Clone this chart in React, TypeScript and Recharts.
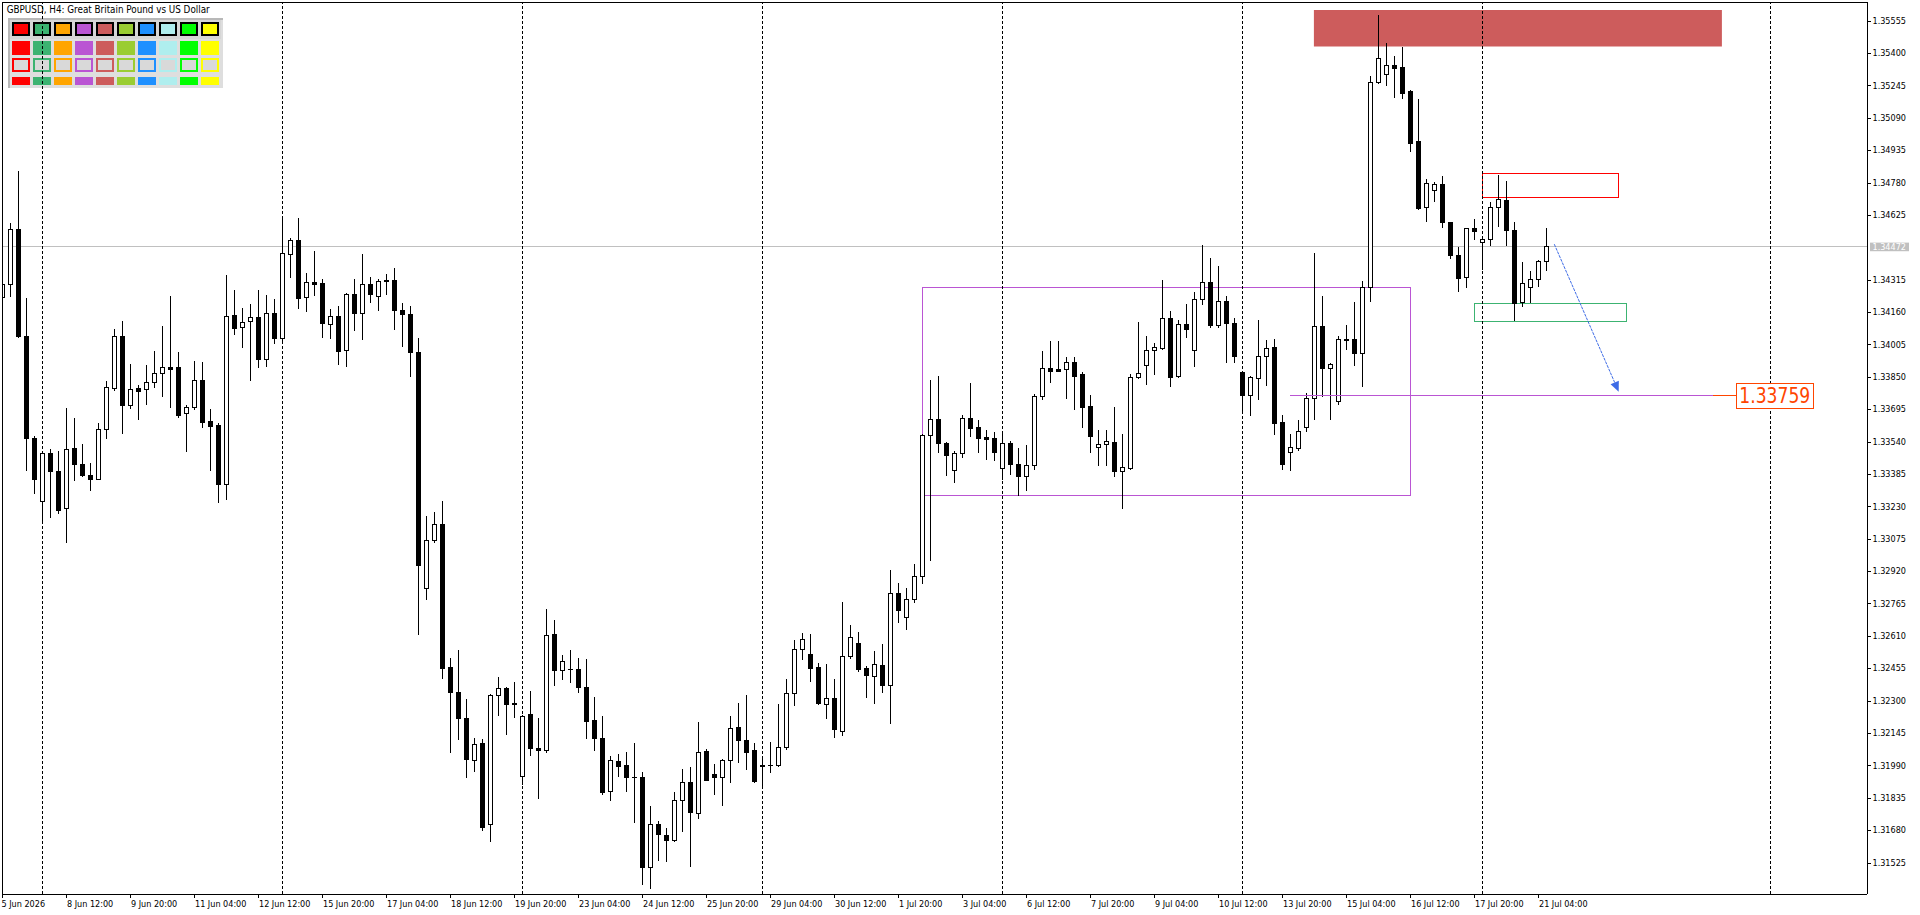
import React from 'react';
import { ComposedChart, Bar, XAxis, YAxis, ReferenceLine, ReferenceArea, ReferenceDot } from 'recharts';

// ---------- data (GBPUSD H4, bar index 0 = 5 Jun 2026 04:00) ----------
const OPEN = [
  1.34234, 1.34293, 1.34556, 1.34046, 1.33555, 1.33255, 1.33484, 1.33398, 1.33220, 1.33508,
  1.33432, 1.33379, 1.33363, 1.33599, 1.33795, 1.34044, 1.33714, 1.33795, 1.33791, 1.33824,
  1.33867, 1.33896, 1.33896, 1.33676, 1.33705, 1.33834, 1.33639, 1.33618, 1.33336, 1.34145,
  1.34087, 1.34116, 1.34135, 1.33934, 1.34154, 1.34035, 1.34437, 1.34504, 1.34232, 1.34303,
  1.34298, 1.34103, 1.34141, 1.33977, 1.34246, 1.34158, 1.34293, 1.34236, 1.34312, 1.34312,
  1.34172, 1.34150, 1.33967, 1.32838, 1.33068, 1.33145, 1.32459, 1.32342, 1.32215, 1.32016,
  1.32098, 1.31709, 1.32328, 1.32362, 1.32287, 1.31938, 1.32237, 1.32075, 1.32065, 1.32619,
  1.32445, 1.32452, 1.32451, 1.32365, 1.32209, 1.32121, 1.31867, 1.32012, 1.31992, 1.31936,
  1.31936, 1.31502, 1.31709, 1.31656, 1.31635, 1.31824, 1.31910, 1.31761, 1.32058, 1.31948,
  1.31934, 1.32015, 1.32173, 1.32111, 1.32063, 1.31988, 1.31991, 1.31991, 1.32077, 1.32336,
  1.32546, 1.32522, 1.32460, 1.32286, 1.32312, 1.32154, 1.32513, 1.32575, 1.32456, 1.32417,
  1.32470, 1.32373, 1.32815, 1.32698, 1.32786, 1.32896, 1.33571, 1.33647, 1.33532, 1.33403,
  1.33484, 1.33652, 1.33609, 1.33561, 1.33556, 1.33413, 1.33533, 1.33434, 1.33373, 1.33427,
  1.33756, 1.33891, 1.33887, 1.33887, 1.33920, 1.33863, 1.33710, 1.33513, 1.33528, 1.33537,
  1.33399, 1.33413, 1.33848, 1.33909, 1.33978, 1.33987, 1.34131, 1.33852, 1.34104, 1.33978,
  1.34222, 1.34303, 1.34100, 1.34212, 1.34107, 1.33872, 1.33761, 1.33844, 1.33949, 1.33992,
  1.33635, 1.33490, 1.33509, 1.33610, 1.33748, 1.34093, 1.33890, 1.33732, 1.34032, 1.34030,
  1.33963, 1.34282, 1.35260, 1.35298, 1.35341, 1.35332, 1.35219, 1.34978, 1.34662, 1.34743,
  1.34772, 1.34590, 1.34432, 1.34327, 1.34561, 1.34494, 1.34509, 1.34662, 1.34695, 1.34552,
  1.34206, 1.34279, 1.34318, 1.34404,
];
const HIGH = [
  1.34310, 1.34588, 1.34835, 1.34228, 1.33567, 1.33488, 1.33504, 1.33496, 1.33701, 1.33654,
  1.33528, 1.33438, 1.33628, 1.33831, 1.34078, 1.34116, 1.33912, 1.33810, 1.33907, 1.33974,
  1.34094, 1.34237, 1.33968, 1.33714, 1.33926, 1.33920, 1.33697, 1.33628, 1.34336, 1.34266,
  1.34180, 1.34199, 1.34266, 1.34242, 1.34223, 1.34614, 1.34513, 1.34609, 1.34346, 1.34453,
  1.34319, 1.34175, 1.34189, 1.34250, 1.34320, 1.34437, 1.34330, 1.34320, 1.34340, 1.34369,
  1.34203, 1.34189, 1.34035, 1.33184, 1.33203, 1.33256, 1.32504, 1.32543, 1.32309, 1.32123,
  1.32117, 1.32332, 1.32414, 1.32367, 1.32391, 1.32230, 1.32344, 1.32215, 1.32738, 1.32684,
  1.32520, 1.32543, 1.32504, 1.32500, 1.32318, 1.32227, 1.32033, 1.32045, 1.32055, 1.32098,
  1.31959, 1.31797, 1.31725, 1.31690, 1.31863, 1.31972, 1.31983, 1.32198, 1.32068, 1.31997,
  1.32020, 1.32227, 1.32288, 1.32326, 1.32096, 1.32025, 1.32101, 1.32285, 1.32404, 1.32591,
  1.32626, 1.32621, 1.32481, 1.32476, 1.32405, 1.32773, 1.32661, 1.32628, 1.32467, 1.32539,
  1.32572, 1.32926, 1.32864, 1.32838, 1.32955, 1.33575, 1.33835, 1.33854, 1.33537, 1.33496,
  1.33666, 1.33821, 1.33642, 1.33596, 1.33586, 1.33577, 1.33542, 1.33509, 1.33525, 1.33769,
  1.33974, 1.34022, 1.34022, 1.33944, 1.33944, 1.33874, 1.33764, 1.33596, 1.33596, 1.33706,
  1.33577, 1.33864, 1.34113, 1.34046, 1.34013, 1.34314, 1.34164, 1.34121, 1.34201, 1.34255,
  1.34480, 1.34420, 1.34380, 1.34238, 1.34132, 1.33876, 1.33855, 1.34121, 1.34027, 1.34032,
  1.33668, 1.33577, 1.33644, 1.33772, 1.34442, 1.34238, 1.33915, 1.34046, 1.34097, 1.34207,
  1.34309, 1.35290, 1.35582, 1.35447, 1.35386, 1.35429, 1.35222, 1.35180, 1.34796, 1.34785,
  1.34812, 1.34593, 1.34472, 1.34564, 1.34606, 1.34512, 1.34687, 1.34817, 1.34788, 1.34592,
  1.34400, 1.34357, 1.34408, 1.34561,
];
const LOW = [
  1.34215, 1.34237, 1.34043, 1.33405, 1.33296, 1.33153, 1.33181, 1.33200, 1.33057, 1.33354,
  1.33373, 1.33306, 1.33360, 1.33555, 1.33787, 1.33583, 1.33703, 1.33646, 1.33722, 1.33799,
  1.33760, 1.33708, 1.33657, 1.33497, 1.33698, 1.33612, 1.33406, 1.33250, 1.33263, 1.34054,
  1.33995, 1.33835, 1.33896, 1.33904, 1.34011, 1.34019, 1.34327, 1.34181, 1.34167, 1.34240,
  1.34043, 1.34038, 1.33910, 1.33904, 1.34076, 1.34031, 1.34207, 1.34172, 1.34246, 1.34080,
  1.33999, 1.33852, 1.32617, 1.32785, 1.33057, 1.32410, 1.32053, 1.32117, 1.31932, 1.31961,
  1.31680, 1.31629, 1.32231, 1.32139, 1.32221, 1.31899, 1.32039, 1.31836, 1.32055, 1.32377,
  1.32402, 1.32387, 1.32342, 1.32123, 1.32065, 1.31854, 1.31824, 1.31938, 1.31869, 1.31717,
  1.31420, 1.31401, 1.31535, 1.31530, 1.31626, 1.31674, 1.31509, 1.31736, 1.31918, 1.31851,
  1.31798, 1.31908, 1.32004, 1.31975, 1.31911, 1.31889, 1.31956, 1.31985, 1.32066, 1.32281,
  1.32501, 1.32396, 1.32286, 1.32219, 1.32124, 1.32135, 1.32502, 1.32440, 1.32315, 1.32287,
  1.32339, 1.32192, 1.32674, 1.32645, 1.32771, 1.32861, 1.32971, 1.33488, 1.33378, 1.33346,
  1.33468, 1.33569, 1.33492, 1.33459, 1.33454, 1.33362, 1.33386, 1.33284, 1.33309, 1.33410,
  1.33746, 1.33823, 1.33877, 1.33751, 1.33694, 1.33612, 1.33488, 1.33426, 1.33426, 1.33373,
  1.33220, 1.33408, 1.33844, 1.33818, 1.33866, 1.33982, 1.33804, 1.33847, 1.34043, 1.33904,
  1.34200, 1.34088, 1.34091, 1.33920, 1.33923, 1.33681, 1.33665, 1.33742, 1.33812, 1.33574,
  1.33411, 1.33405, 1.33501, 1.33590, 1.33650, 1.33756, 1.33650, 1.33721, 1.33982, 1.33907,
  1.33804, 1.34214, 1.35255, 1.35249, 1.35191, 1.35187, 1.34933, 1.34652, 1.34598, 1.34694,
  1.34565, 1.34418, 1.34263, 1.34282, 1.34509, 1.34368, 1.34483, 1.34574, 1.34483, 1.34123,
  1.34191, 1.34209, 1.34287, 1.34362,
];
const CLOSE = [
  1.34295, 1.34556, 1.34046, 1.33555, 1.33363, 1.33484, 1.33397, 1.33213, 1.33504, 1.33432,
  1.33382, 1.33363, 1.33599, 1.33800, 1.34044, 1.33713, 1.33791, 1.33784, 1.33824, 1.33867,
  1.33896, 1.33889, 1.33669, 1.33705, 1.33834, 1.33636, 1.33617, 1.33336, 1.34140, 1.34086,
  1.34114, 1.34135, 1.33934, 1.34154, 1.34038, 1.34441, 1.34504, 1.34226, 1.34303, 1.34296,
  1.34110, 1.34141, 1.33976, 1.34246, 1.34158, 1.34293, 1.34246, 1.34309, 1.34309, 1.34172,
  1.34150, 1.33967, 1.32951, 1.33068, 1.33145, 1.32455, 1.32342, 1.32217, 1.32020, 1.32092,
  1.31697, 1.32328, 1.32358, 1.32283, 1.32283, 1.32227, 1.32071, 1.32065, 1.32615, 1.32445,
  1.32488, 1.32449, 1.32363, 1.32201, 1.32119, 1.31863, 1.32016, 1.31985, 1.31934, 1.31934,
  1.31502, 1.31711, 1.31661, 1.31632, 1.31824, 1.31910, 1.31765, 1.32053, 1.31921, 1.31934,
  1.32015, 1.32168, 1.32111, 1.32056, 1.31913, 1.31991, 1.31993, 1.32077, 1.32336, 1.32546,
  1.32594, 1.32458, 1.32289, 1.32312, 1.32164, 1.32513, 1.32604, 1.32449, 1.32421, 1.32475,
  1.32373, 1.32815, 1.32732, 1.32786, 1.32896, 1.33571, 1.33647, 1.33531, 1.33478, 1.33484,
  1.33652, 1.33607, 1.33559, 1.33551, 1.33492, 1.33533, 1.33431, 1.33373, 1.33427, 1.33759,
  1.33891, 1.33880, 1.33880, 1.33920, 1.33856, 1.33708, 1.33569, 1.33528, 1.33542, 1.33399,
  1.33418, 1.33848, 1.33868, 1.33978, 1.33992, 1.34131, 1.33847, 1.34104, 1.34077, 1.34222,
  1.34303, 1.34100, 1.34212, 1.34107, 1.33952, 1.33761, 1.33848, 1.33949, 1.33987, 1.33627,
  1.33435, 1.33513, 1.33590, 1.33748, 1.34093, 1.33890, 1.33911, 1.34030, 1.34026, 1.33963,
  1.34279, 1.35260, 1.35375, 1.35341, 1.35327, 1.35211, 1.34971, 1.34660, 1.34780, 1.34772,
  1.34589, 1.34431, 1.34322, 1.34561, 1.34547, 1.34509, 1.34662, 1.34700, 1.34552, 1.34203,
  1.34298, 1.34318, 1.34404, 1.34475,
];

const X_TICKS = [0, 8, 16, 24, 32, 40, 48, 56, 64, 72, 80, 88, 96, 104, 112, 120, 128, 136, 144, 152, 160, 168, 176, 184, 192];
const X_LABELS = [
  '5 Jun 2026', '8 Jun 12:00', '9 Jun 20:00', '11 Jun 04:00', '12 Jun 12:00', '15 Jun 20:00',
  '17 Jun 04:00', '18 Jun 12:00', '19 Jun 20:00', '23 Jun 04:00', '24 Jun 12:00', '25 Jun 20:00',
  '29 Jun 04:00', '30 Jun 12:00', '1 Jul 20:00', '3 Jul 04:00', '6 Jul 12:00', '7 Jul 20:00',
  '9 Jul 04:00', '10 Jul 12:00', '13 Jul 20:00', '15 Jul 04:00', '16 Jul 12:00', '17 Jul 20:00',
  '21 Jul 04:00',
];
const BID = 1.34472;
const Y_TICKS = [
  1.31525, 1.3168, 1.31835, 1.3199, 1.32145, 1.323, 1.32455, 1.3261, 1.32765, 1.3292,
  1.33075, 1.3323, 1.33385, 1.3354, 1.33695, 1.3385, 1.34005, 1.3416, 1.34315, 1.34625,
  1.3478, 1.34935, 1.3509, 1.35245, 1.354, 1.35555, BID,
];
const SEPARATORS = [5, 35, 65, 95, 125, 155, 185, 221];

// drawn objects (bar index / price)
const FILLED_ZONES = [{ x1: 163.9, x2: 214.9, y1: 1.35431, y2: 1.35606, color: '#CD5C5C' }];
const OUTLINE_ZONES = [
  { x1: 114.95, x2: 175.95, y1: 1.33283, y2: 1.34279, color: '#BA55D3' },
  { x1: 184.95, x2: 201.95, y1: 1.3471, y2: 1.34825, color: '#FF0000' },
  { x1: 183.95, x2: 203.0, y1: 1.34116, y2: 1.34202, color: '#3CB371' },
];
const TARGET = 1.33759;
const TARGET_LINE = [160.9, 213.83, 216.7];
const ARROW_FROM = { x: 193.95, y: 1.34485 };
const ARROW_TO = { x: 202.0, y: 1.33779 };
const PALETTE = ['#FF0000', '#3CB371', '#FFA500', '#BA55D3', '#CD5C5C', '#9ACD32', '#1E90FF', '#AFEEEE', '#00FF00', '#FFFF00'];

const data = OPEN.map((o, i) => ({ i, o, h: HIGH[i], l: LOW[i], c: CLOSE[i], range: [LOW[i], HIGH[i]] }));

// ---------- layout ----------
const W = 1920;
const H = 915;
const PLOT_LEFT = 2;
const PLOT_TOP = 2;
const AXIS_W = 53;
const AXIS_H = 21;
const PLOT_RIGHT = W - AXIS_W;
const PLOT_BOTTOM = H - AXIS_H;
const X_MIN = -0.0875;
const X_MAX = X_MIN + (PLOT_RIGHT - PLOT_LEFT) / 8;
const Y_MIN = 1.313742;
const Y_MAX = 1.356445;
const FONT = "Tahoma, 'DejaVu Sans Condensed', 'DejaVu Sans', sans-serif";

const Candle = (props: any) => {
  const { x, y, width, height, payload } = props;
  if (!payload || x == null) return null;
  const { o, h, l, c } = payload;
  const top = Math.min(y, y + height);
  const bot = Math.max(y, y + height);
  const per = h > l ? (bot - top) / (h - l) : 0;
  const py = (p: number) => top + (h - p) * per;
  const col = Math.floor(x + width / 2);
  const lx = col + 0.5;
  const bull = c >= o;
  const bTop = Math.round(Math.min(py(o), py(c)));
  const bBot = Math.round(Math.max(py(o), py(c)));
  return (
    <g shapeRendering="crispEdges">
      <line x1={lx} x2={lx} y1={Math.round(top)} y2={Math.round(bot) + 1} stroke="#000" strokeWidth={1} />
      {bBot - bTop >= 1 ? (
        <rect x={col - 2 + 0.5} y={bTop + 0.5} width={4} height={bBot - bTop} fill={bull ? '#fff' : '#000'} stroke="#000" strokeWidth={1} />
      ) : (
        <line x1={col - 2} x2={col + 3} y1={bTop + 0.5} y2={bTop + 0.5} stroke="#000" strokeWidth={1} />
      )}
    </g>
  );
};

const XTick = (props: any) => {
  const { x, payload } = props;
  const k = X_TICKS.indexOf(payload.value);
  const label = k >= 0 ? X_LABELS[k] : '';
  const col = Math.floor(x) + 0.5;
  const first = k === 0;
  return (
    <g>
      <line x1={col} x2={col} y1={PLOT_BOTTOM} y2={PLOT_BOTTOM + 4} stroke="#000" shapeRendering="crispEdges" />
      <text x={first ? 1.5 : col + 0.5} y={PLOT_BOTTOM + 13.3} fontSize={9} fontFamily={FONT} fill="#000">
        {label}
      </text>
    </g>
  );
};

const YTick = (props: any) => {
  const { y, payload } = props;
  const v = payload.value;
  const yy = Math.round(y) + 0.5;
  if (v === BID) {
    return (
      <g>
        <rect x={PLOT_RIGHT + 3} y={y - 4.3} width={39} height={8.6} fill="#c0c0c0" />
        <text x={PLOT_RIGHT + 5.5} y={y} dy="0.36em" fontSize={9} fontFamily={FONT} fill="#fff">
          {v.toFixed(5)}
        </text>
      </g>
    );
  }
  return (
    <g>
      <line x1={PLOT_RIGHT} x2={PLOT_RIGHT + 4} y1={yy} y2={yy} stroke="#000" shapeRendering="crispEdges" />
      <text x={PLOT_RIGHT + 5.5} y={y} dy="0.36em" fontSize={9} fontFamily={FONT} fill="#000">
        {v.toFixed(5)}
      </text>
    </g>
  );
};

const ArrowShape = (props: any) => {
  const { x1, y1, x2, y2 } = props;
  if (x1 == null) return null;
  const dx = x2 - x1;
  const dy = y2 - y1;
  const len = Math.sqrt(dx * dx + dy * dy) || 1;
  const ux = dx / len;
  const uy = dy / len;
  const bx = x2 - ux * 10;
  const by = y2 - uy * 10;
  const nx = -uy * 4.5;
  const ny = ux * 4.5;
  return (
    <g>
      <line x1={x1} y1={y1} x2={bx} y2={by} stroke="#3D6BE6" strokeWidth={1} strokeDasharray="3 1" />
      <polygon points={`${x2},${y2} ${bx + nx},${by + ny} ${bx - nx},${by - ny}`} fill="#3D6BE6" />
    </g>
  );
};

const PriceTag = (props: any) => {
  const { cx, cy } = props;
  if (cx == null) return null;
  return (
    <g>
      <rect x={Math.round(cx) + 0.5} y={Math.round(cy - 12.5) + 0.5} width={77} height={25} fill="#fff" stroke="#FF4500" strokeWidth={1} />
      <text x={cx + 38.5} y={cy + 7.6} textAnchor="middle" fontSize={21} fontFamily={FONT} fill="#FF4500" textLength={71} lengthAdjust="spacingAndGlyphs">
        {TARGET.toFixed(5)}
      </text>
    </g>
  );
};

const Palette = () => {
  const cell = (i: number) => 12 + 21 * i;
  return (
    <div style={{ position: 'absolute', left: 0, top: 0, width: 0, height: 0 }}>
      <div style={{ position: 'absolute', left: 8, top: 18, width: 215, height: 70, background: '#dedede', borderTop: '2px solid #b8b8b8', borderLeft: '2px solid #b8b8b8', boxSizing: 'border-box' }} />
      <div style={{ position: 'absolute', left: 10, top: 20, width: 211, height: 19, background: '#d6d6d6' }} />
      {PALETTE.map((c, i) => (
        <React.Fragment key={c}>
          <div style={{ position: 'absolute', left: cell(i), top: 22, width: 18, height: 14, boxSizing: 'border-box', border: '2px solid #000', background: c }} />
          <div style={{ position: 'absolute', left: cell(i), top: 41, width: 18, height: 14, background: c }} />
          <div style={{ position: 'absolute', left: cell(i), top: 58, width: 18, height: 14, boxSizing: 'border-box', border: '2px solid ' + c, background: '#d9d9d9' }} />
          <div style={{ position: 'absolute', left: cell(i), top: 77, width: 18, height: 8, background: c }} />
        </React.Fragment>
      ))}
    </div>
  );
};

export default function App() {
  return (
    <div style={{ position: 'fixed', left: 0, top: 0, width: W, height: H, background: '#fff', overflow: 'hidden' }}>
      <Palette />
      <div style={{ position: 'absolute', left: 0, top: 0 }}>
        <ComposedChart width={W} height={H} data={data} margin={{ top: PLOT_TOP, right: 0, bottom: 0, left: PLOT_LEFT }}>
          <XAxis
            dataKey="i"
            type="number"
            domain={[X_MIN, X_MAX]}
            allowDataOverflow
            ticks={X_TICKS}
            interval={0}
            height={AXIS_H}
            tickLine={false}
            axisLine={{ stroke: '#000', shapeRendering: 'crispEdges' }}
            tick={<XTick />}
          />
          <YAxis
            type="number"
            orientation="right"
            domain={[Y_MIN, Y_MAX]}
            allowDataOverflow
            ticks={Y_TICKS}
            interval={0}
            width={AXIS_W}
            tickLine={false}
            axisLine={{ stroke: '#000', shapeRendering: 'crispEdges' }}
            tick={<YTick />}
          />
          <ReferenceLine x={X_MIN} stroke="#000" shapeRendering="crispEdges" />
          <ReferenceLine y={Y_MAX} stroke="#000" shapeRendering="crispEdges" />
          {FILLED_ZONES.map((z, k) => (
            <ReferenceArea key={'f' + k} x1={z.x1} x2={z.x2} y1={z.y1} y2={z.y2} fill={z.color} fillOpacity={1} stroke="none" zIndex={-40} />
          ))}
          {OUTLINE_ZONES.map((z, k) => (
            <ReferenceArea key={'o' + k} x1={z.x1} x2={z.x2} y1={z.y1} y2={z.y2} fill="none" fillOpacity={0} stroke={z.color} strokeWidth={1} shapeRendering="crispEdges" zIndex={-40} />
          ))}
          <ReferenceLine y={BID} stroke="#c0c0c0" strokeWidth={1} shapeRendering="crispEdges" zIndex={-30} />
          {SEPARATORS.map((s) => (
            <ReferenceLine key={'s' + s} x={s} stroke="#000" strokeWidth={1} strokeDasharray="3 2" shapeRendering="crispEdges" zIndex={-30} />
          ))}
          <Bar dataKey="range" barSize={5} shape={<Candle />} isAnimationActive={false} />
          <ReferenceLine
            segment={[{ x: TARGET_LINE[0], y: TARGET }, { x: TARGET_LINE[1], y: TARGET }]}
            stroke="#BA55D3"
            strokeWidth={1}
            shapeRendering="crispEdges"
          />
          <ReferenceLine
            segment={[{ x: TARGET_LINE[1], y: TARGET }, { x: TARGET_LINE[2], y: TARGET }]}
            stroke="#FF4500"
            strokeWidth={1}
            shapeRendering="crispEdges"
          />
          <ReferenceLine segment={[ARROW_FROM, ARROW_TO]} stroke="#3D6BE6" shape={ArrowShape} />
          <ReferenceDot x={TARGET_LINE[2]} y={TARGET} r={1} shape={PriceTag} />
        </ComposedChart>
      </div>
      <svg width={W} height={H} style={{ position: 'absolute', left: 0, top: 0, pointerEvents: 'none' }}>
        <text x={6.7} y={12.7} fontSize={10} fontFamily={FONT} fill="#000" textLength={203} lengthAdjust="spacingAndGlyphs">
          GBPUSD, H4:  Great Britain Pound vs US Dollar
        </text>
      </svg>
    </div>
  );
}
